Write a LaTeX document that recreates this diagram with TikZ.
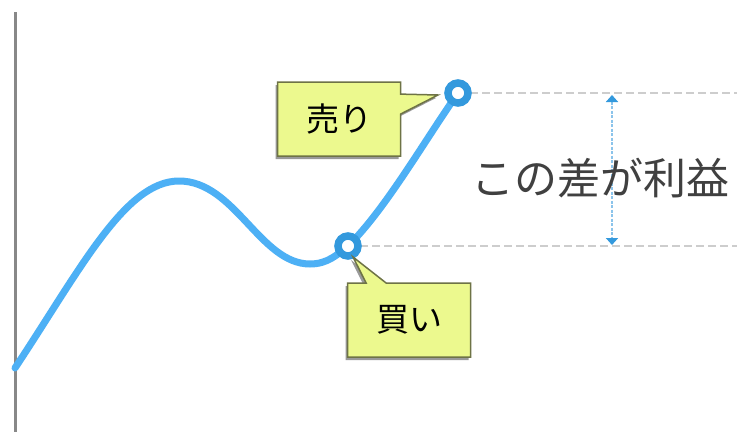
\documentclass[tikz,border=0pt]{standalone}
\usepackage{fontspec}
\setmainfont{Noto Sans CJK JP}
\usetikzlibrary{shapes.callouts,shadows,arrows.meta}
\definecolor{curveblue}{RGB}{77,176,245}
\definecolor{dotblue}{RGB}{51,153,221}
\definecolor{guidegray}{RGB}{205,205,205}
\definecolor{axisgray}{RGB}{136,136,136}
\definecolor{calloutfill}{RGB}{236,249,142}
\definecolor{calloutdraw}{RGB}{110,115,70}
\definecolor{textgray}{RGB}{64,64,64}
\definecolor{arrowblue}{RGB}{140,196,235}
\tikzset{
  pricept/.style={circle,draw=dotblue,fill=white,line width=7.5pt,minimum size=20pt,inner sep=0pt},
  guide/.style={draw=guidegray,line width=1.5pt,dash pattern=on 8pt off 4pt},
  balloon/.style={rectangle callout,fill=calloutfill,draw=calloutdraw,line width=1.5pt,
    minimum width=123pt,minimum height=74pt,inner sep=0pt,font=\fontsize{33}{36}\selectfont,
    callout pointer width=20pt,
    drop shadow={shadow xshift=-2pt,shadow yshift=-3pt,fill=black!40,opacity=1}},
}
\begin{document}
\begin{tikzpicture}[x=1pt,y=-1pt]
\useasboundingbox[fill=white] (0,0) rectangle (737,432);
% axis
\coordinate (axtop) at (15,12);
\coordinate (axbot) at (15,432);
\draw[axisgray,line width=3pt] (axtop) -- (axbot);
% points
\coordinate (start) at (15,368);
\coordinate (peak) at (179,181);
\coordinate (trough) at (310,264);
\coordinate (buyc) at (348,246);
\coordinate (sellc) at (458,93);
% guides
\coordinate (guideA) at (737,93);
\coordinate (guideB) at (737,246);
\draw[guide] (sellc) -- (guideA);
\draw[guide] (buyc) -- (guideB);
% curve
\draw[curveblue,line width=7pt,line cap=round]
  (start) .. controls (80,270) and (125,181) .. (peak)
  .. controls (235,181) and (260,264) .. (trough)
  .. controls (328,264) and (338,254) .. (buyc)
  .. controls (385,210) and (425,140) .. (sellc);
\node[pricept] (buy) at (buyc) {};
\node[pricept] (sell) at (sellc) {};
% measure arrow
\coordinate (mtop) at (612,95);
\coordinate (mbot) at (612,245);
\draw[arrowblue,line width=1.8pt,dash pattern=on 3pt off 1.5pt,
  {Triangle[width=12pt,length=7pt,fill=dotblue,color=dotblue]}-{Triangle[width=12pt,length=7pt,fill=dotblue,color=dotblue]}]
  (mtop) -- (mbot);
\node[text=textgray,font=\fontsize{43}{48}\selectfont,inner sep=0pt] (gain) at (600,178) {この差が利益};
% callouts
\coordinate (sellptr) at (438,95);
\coordinate (buyptr) at (353,257);
\node[balloon,callout absolute pointer={(sellptr)}] (sellbox) at (339,119) {売り};
\node[balloon,callout absolute pointer={(buyptr)}] (buybox) at (409,320) {買い};
\end{tikzpicture}
\end{document}
